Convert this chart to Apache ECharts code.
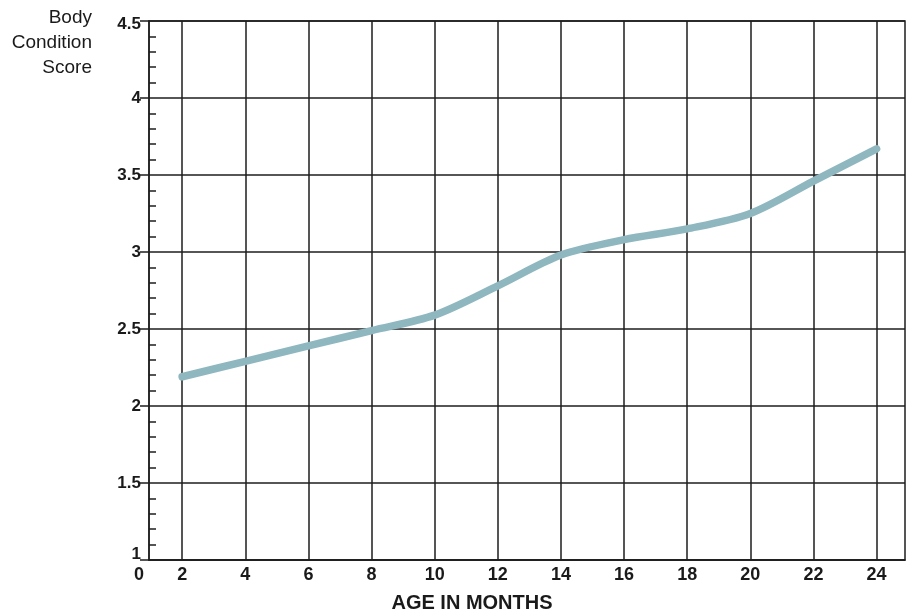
<!DOCTYPE html>
<html>
<head>
<meta charset="utf-8">
<script src="https://cdn.jsdelivr.net/npm/echarts@6/dist/echarts.min.js"></script>
<style>html,body{margin:0;padding:0;background:#fff}#c{width:912px;height:612px}</style>
</head>
<body>
<div id="c"></div>
<script>
const ages = [2, 4, 6, 8, 10, 12, 14, 16, 18, 20, 22, 24];
const scores = [2.19, 2.29, 2.39, 2.49, 2.59, 2.78, 2.98, 3.08, 3.15, 3.25, 3.46, 3.67];
const xTicks = [2, 4, 6, 8, 10, 12, 14, 16, 18, 20, 22, 24];
const cornerLabel = '0';
const xRange = [0.95, 24.9];
const yRange = [1, 4.5];
const yStep = 0.5;
const yTitle = 'Body\nCondition\nScore';
const xTitle = 'AGE IN MONTHS';

const chart = echarts.init(document.getElementById('c'), null, {renderer: 'canvas'});
const gridColor = '#1e1e1e';
const txt = '#1a1a1a';
chart.setOption({
  animation: false,
  graphic: [{
    type: 'text',
    x: 92,
    y: 5,
    style: {text: yTitle, align: 'right', verticalAlign: 'top', fontFamily: 'Liberation Sans', fontSize: 19, lineHeight: 25, fill: txt}
  }],
  grid: {left: 149, right: 7, top: 21, bottom: 52, outerBoundsMode: 'none', containLabel: false, show: true, borderColor: gridColor, borderWidth: 1.5, backgroundColor: 'transparent'},
  xAxis: {
    type: 'value',
    min: xRange[0],
    max: xRange[1],
    name: xTitle,
    nameLocation: 'middle',
    nameGap: 33,
    nameTextStyle: {fontFamily: 'Liberation Sans', fontWeight: 'bold', fontSize: 20, color: txt, padding: [0, 110, 0, 0]},
    axisLine: {show: true, lineStyle: {color: gridColor, width: 1.5}},
    axisTick: {show: true, inside: true, length: 539, customValues: xTicks, lineStyle: {color: gridColor, width: 1.5}},
    axisLabel: {
      customValues: [xRange[0]].concat(xTicks),
      margin: 6,
      fontFamily: 'Liberation Sans',
      fontWeight: 'bold',
      fontSize: 18,
      color: txt,
      formatter: function (v) { return v < xTicks[0] ? '{z|' + cornerLabel + '}' : String(v); },
      rich: {z: {fontFamily: 'Liberation Sans', fontWeight: 'bold', fontSize: 18, color: txt, padding: [0, 20, 0, 0]}}
    },
    splitLine: {show: false}
  },
  yAxis: [{
    type: 'value',
    min: yRange[0],
    max: yRange[1],
    interval: yStep,
    position: 'left',
    axisLine: {show: true, lineStyle: {color: gridColor, width: 1.5}},
    axisTick: {show: true, inside: false, length: 9, lineStyle: {color: gridColor, width: 1.5}},
    axisLabel: {
      margin: 8, fontFamily: 'Liberation Sans', fontWeight: 'bold', fontSize: 17, color: txt,
      formatter: function (v) {
        if (v === yRange[0]) return '{lo|' + v + '}';
        if (v === yRange[1]) return '{hi|' + v + '}';
        return String(v);
      },
      rich: {
        lo: {fontFamily: 'Liberation Sans', fontWeight: 'bold', fontSize: 17, color: txt, padding: [0, 0, 11, 0]},
        hi: {fontFamily: 'Liberation Sans', fontWeight: 'bold', fontSize: 17, color: txt, padding: [6, 0, 0, 0]}
      }
    },
    splitLine: {show: true, lineStyle: {color: gridColor, width: 1.5}}
  }, {
    type: 'value',
    min: yRange[0],
    max: yRange[1],
    interval: yStep,
    position: 'left',
    axisLine: {show: false},
    axisTick: {show: false, inside: true},
    minorTick: {show: true, splitNumber: 5, length: 7, lineStyle: {color: gridColor, width: 1.5}},
    axisLabel: {show: false},
    splitLine: {show: false}
  }],
  series: [{
    type: 'line',
    xAxisIndex: 0,
    yAxisIndex: 0,
    data: ages.map((a, i) => [a, scores[i]]),
    smooth: 0.3,
    showSymbol: false,
    lineStyle: {color: '#8fb7bf', width: 7.5, cap: 'round'},
    z: 5
  }]
});
</script>
</body>
</html>
